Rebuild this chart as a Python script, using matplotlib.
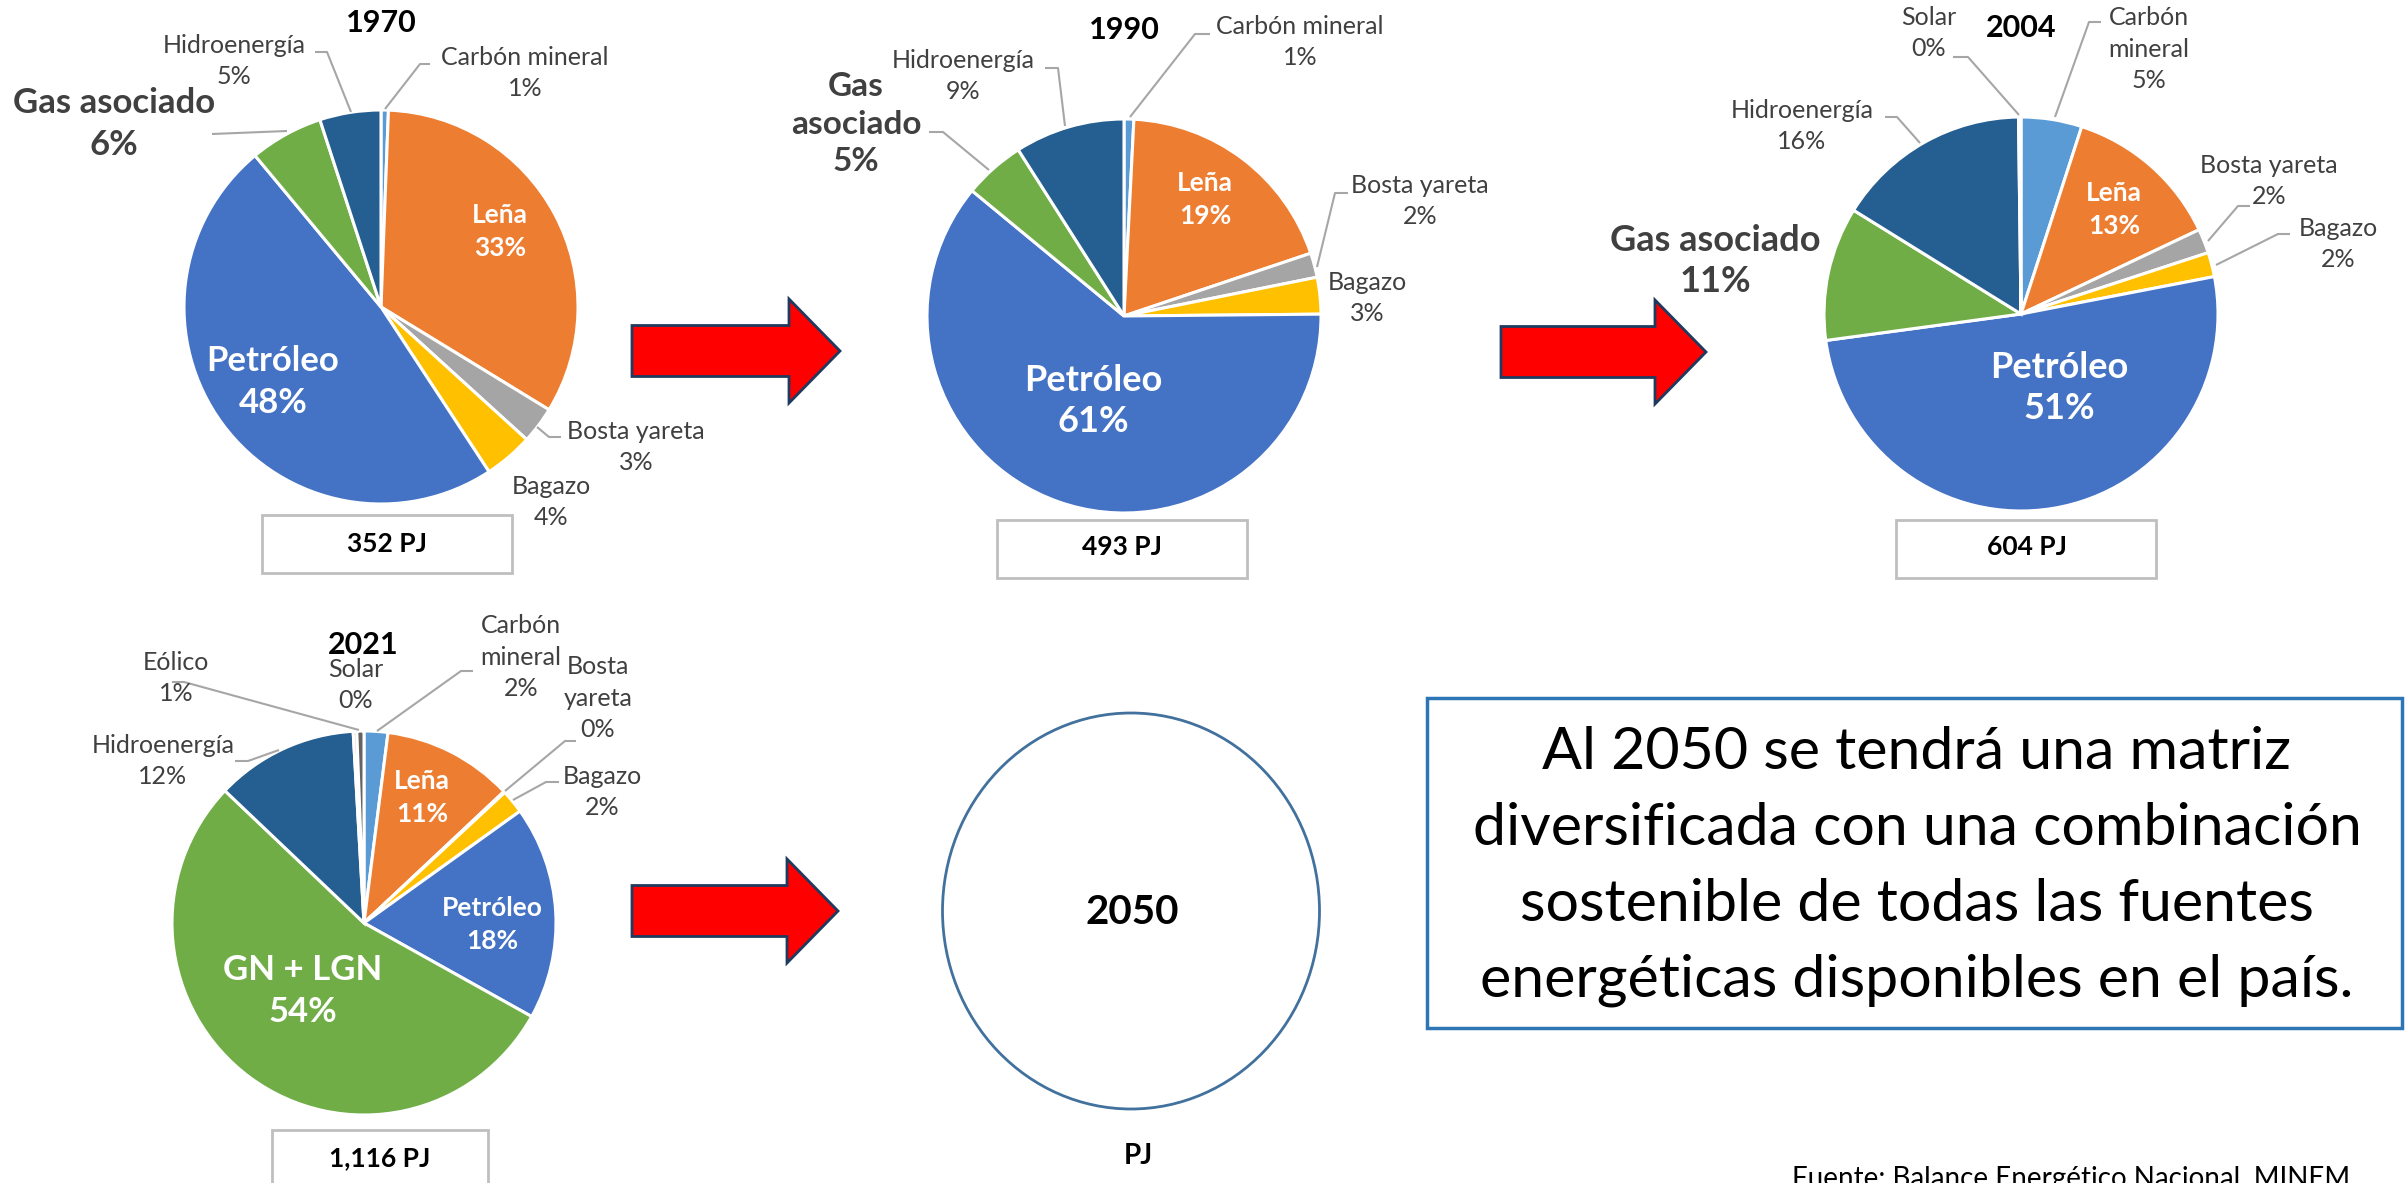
import matplotlib
matplotlib.use("Agg")
import matplotlib.pyplot as plt
from matplotlib.patches import Rectangle, Ellipse, FancyArrow

plt.rcParams['font.family'] = ['Lato', 'DejaVu Sans']

# ---------------- data ----------------
cats_1970 = ["Carbón mineral", "Leña", "Bosta yareta", "Bagazo", "Petróleo", "Gas asociado", "Hidroenergía"]
vals_1970 = [0.6, 33, 3, 4, 48, 6, 5]
total_1970 = "352 PJ"

cats_1990 = ["Carbón mineral", "Leña", "Bosta yareta", "Bagazo", "Petróleo", "Gas asociado", "Hidroenergía"]
vals_1990 = [0.8, 19, 2, 3, 61, 5, 9]
total_1990 = "493 PJ"

cats_2004 = ["Carbón mineral", "Leña", "Bosta yareta", "Bagazo", "Petróleo", "Gas asociado", "Hidroenergía", "Solar"]
vals_2004 = [5, 13, 2, 2, 51, 11, 16, 0.2]
total_2004 = "604 PJ"

cats_2021 = ["Carbón mineral", "Leña", "Bosta yareta", "Bagazo", "Petróleo", "GN + LGN", "Hidroenergía", "Solar", "Eólico"]
vals_2021 = [2, 11, 0.1, 2, 18, 54, 12, 0.3, 0.6]
total_2021 = "1,116 PJ"

years = ["1970", "1990", "2004", "2021", "2050"]
total_2050 = "PJ"

message = ["Al 2050 se tendrá una matriz",
           "diversificada con una combinación",
           "sostenible de todas las fuentes",
           "energéticas disponibles en el país."]
source = "Fuente: Balance Energético Nacional, MINEM"

colors = {
    "Carbón mineral": "#5B9BD5",
    "Leña": "#ED7D31",
    "Bosta yareta": "#A5A5A5",
    "Bagazo": "#FFC000",
    "Petróleo": "#4472C4",
    "Gas asociado": "#70AD47",
    "GN + LGN": "#70AD47",
    "Hidroenergía": "#255E91",
    "Solar": "#D6A77A",
    "Eólico": "#636363",
}

# ---------------- figure ----------------
W, H = 2407, 1183
fig = plt.figure(figsize=(W / 100, H / 100), dpi=100)
fig.patch.set_facecolor("white")

ov = fig.add_axes([0, 0, 1, 1], zorder=10)
ov.set_xlim(0, W)
ov.set_ylim(H, 0)
ov.axis("off")

GRAY = "#404040"
LEAD = "#A6A6A6"
SMALL = 18


def pie_at(cx, cy, r, cats, vals):
    ax = fig.add_axes([(cx - r) / W, 1 - (cy + r) / H, 2 * r / W, 2 * r / H], zorder=1)
    ax.pie(vals, colors=[colors[c] for c in cats], startangle=90, counterclock=False,
           wedgeprops=dict(edgecolor="white", linewidth=2.2))
    ax.set_xlim(-1, 1)
    ax.set_ylim(-1, 1)
    return ax


def label(cats, vals, name, x, y, size=SMALL, style="n", wrap=False, ls=1.45):
    v = vals[cats.index(name)]
    txt = (name.replace(" ", "\n") if wrap else name) + "\n" + f"{round(v)}%"
    if style == "n":
        col, wt = GRAY, "normal"
    elif style == "b":
        col, wt = GRAY, "bold"
    else:
        col, wt = "white", "bold"
    ov.text(x, y, txt, ha="center", va="center", fontsize=size, color=col,
            fontweight=wt, linespacing=ls, multialignment="center")


def lead(pts):
    xs, ys = zip(*pts)
    ov.plot(xs, ys, color=LEAD, lw=1.5, solid_capstyle="butt")


def title(x, y, t, size=22):
    ov.text(x, y, t, ha="center", va="center", fontsize=size, fontweight="bold", color="black")


def box(x0, x1, y0, y1, t, tx, ty):
    ov.add_patch(Rectangle((x0, y0), x1 - x0, y1 - y0, facecolor="white",
                           edgecolor="#BFBFBF", lw=2, clip_on=False))
    ov.text(tx, ty, t, ha="center", va="center", fontsize=19, fontweight="bold", color="black")


def arrow(x0, xt, yc, sw=51, hw=104, hl=51):
    ov.add_patch(FancyArrow(x0, yc, xt - x0, 0, width=sw, head_width=hw, head_length=hl,
                            length_includes_head=True, facecolor="#FF0000",
                            edgecolor="#1F3A5F", lw=2, joinstyle="miter"))


# ---- 1970 ----
pie_at(381, 307, 197, cats_1970, vals_1970)
title(381, 23, years[0])
label(cats_1970, vals_1970, "Hidroenergía", 234, 61)
label(cats_1970, vals_1970, "Carbón mineral", 525, 73)
label(cats_1970, vals_1970, "Gas asociado", 114, 124, size=25, style="b", ls=1.35)
label(cats_1970, vals_1970, "Leña", 500, 231, size=19, style="w")
label(cats_1970, vals_1970, "Petróleo", 273, 382, size=25, style="w", ls=1.35)
label(cats_1970, vals_1970, "Bosta yareta", 636, 447)
label(cats_1970, vals_1970, "Bagazo", 551, 502)
lead([(315, 52), (327, 52), (351, 112)])
lead([(385, 109), (420, 64), (430, 64)])
lead([(212, 134), (287, 131)])
lead([(537, 427), (549, 437), (561, 437)])
box(262, 512, 515, 573, total_1970, 387, 544)

# ---- 1990 ----
pie_at(1124, 316, 197, cats_1990, vals_1990)
title(1124, 30, years[1])
label(cats_1990, vals_1990, "Carbón mineral", 1300, 42)
label(cats_1990, vals_1990, "Hidroenergía", 963, 76)
label(cats_1990, vals_1990, "Gas asociado", 856, 124, size=24, style="b", wrap=True, ls=1.35)
label(cats_1990, vals_1990, "Leña", 1205, 199, size=19, style="w")
label(cats_1990, vals_1990, "Bosta yareta", 1420, 201)
label(cats_1990, vals_1990, "Bagazo", 1367, 298)
label(cats_1990, vals_1990, "Petróleo", 1093, 401, size=26, style="w", ls=1.3)
lead([(1130, 117), (1195, 34), (1210, 34)])
lead([(1065, 126), (1058, 68), (1045, 68)])
lead([(989, 170), (943, 132), (929, 132)])
lead([(1317, 267), (1335, 193), (1348, 193)])
box(997, 1247, 520, 578, total_1990, 1122, 547)

# ---- 2004 ----
pie_at(2021, 314, 197, cats_2004, vals_2004)
title(2021, 28, years[2])
label(cats_2004, vals_2004, "Solar", 1929, 33)
label(cats_2004, vals_2004, "Carbón mineral", 2149, 49, wrap=True)
label(cats_2004, vals_2004, "Hidroenergía", 1802, 126)
label(cats_2004, vals_2004, "Gas asociado", 1715, 261, size=26, style="b", ls=1.3)
label(cats_2004, vals_2004, "Leña", 2114, 209, size=19, style="w")
label(cats_2004, vals_2004, "Bosta yareta", 2269, 181)
label(cats_2004, vals_2004, "Bagazo", 2338, 244)
label(cats_2004, vals_2004, "Petróleo", 2059, 388, size=26, style="w", ls=1.3)
lead([(2019, 115), (1968, 57), (1953, 57)])
lead([(2055, 117), (2089, 22), (2101, 22)])
lead([(1920, 143), (1897, 117), (1885, 117)])
lead([(2208, 241), (2238, 206), (2250, 206)])
lead([(2216, 265), (2278, 234), (2290, 234)])
box(1896, 2156, 520, 578, total_2004, 2027, 547)

# ---- 2021 ----
pie_at(364, 923, 192, cats_2021, vals_2021)
label(cats_2021, vals_2021, "Eólico", 176, 678)
label(cats_2021, vals_2021, "Solar", 356, 685)
title(363, 645, years[3])
label(cats_2021, vals_2021, "Carbón mineral", 521, 657, wrap=True)
label(cats_2021, vals_2021, "Bosta yareta", 598, 698, wrap=True)
label(cats_2021, vals_2021, "Bagazo", 602, 792)
label(cats_2021, vals_2021, "Hidroenergía", 163, 761)
label(cats_2021, vals_2021, "Leña", 422, 797, size=19, style="w")
label(cats_2021, vals_2021, "Petróleo", 492, 924, size=19, style="w")
label(cats_2021, vals_2021, "GN + LGN", 303, 991, size=25, style="w", ls=1.35)
lead([(359, 730), (184, 682), (172, 682)])
lead([(377, 731), (461, 671), (473, 671)])
lead([(505, 791), (565, 741), (576, 741)])
lead([(513, 800), (546, 782), (559, 782)])
lead([(279, 750), (248, 761), (235, 761)])
box(272, 488, 1130, 1200, total_2021, 380, 1158)

# ---- 2050 ----
ov.add_patch(Ellipse((1131, 911), 377, 396, facecolor="white", edgecolor="#41719C", lw=2))
ov.text(1132, 912, years[4], ha="center", va="center", fontsize=29, fontweight="bold", color="black")
ov.text(1138, 1156, total_2050, ha="center", va="center", fontsize=20, fontweight="bold", color="black")

# ---- arrows ----
arrow(632, 840, 351)
arrow(1501, 1706, 352)
arrow(632, 838, 911)

# ---- message box ----
ov.add_patch(Rectangle((1427, 698), 2402 - 1427, 1028 - 698, facecolor="white",
                       edgecolor="#2E75B6", lw=2.5))
renderer = fig.canvas.get_renderer()
probe = ov.text(0, 0, message[1], fontsize=40)
wpx = probe.get_window_extent(renderer).width
probe.remove()
msize = 40 * 889 / wpx
for i, line in enumerate(message):
    ov.text(1917, 752 + i * 76, line, ha="center", va="center", fontsize=msize, color="black")

ov.text(1792, 1166, source, ha="left", va="top", fontsize=20, color="black")

fig.savefig("out.png", dpi=100, facecolor="white")
